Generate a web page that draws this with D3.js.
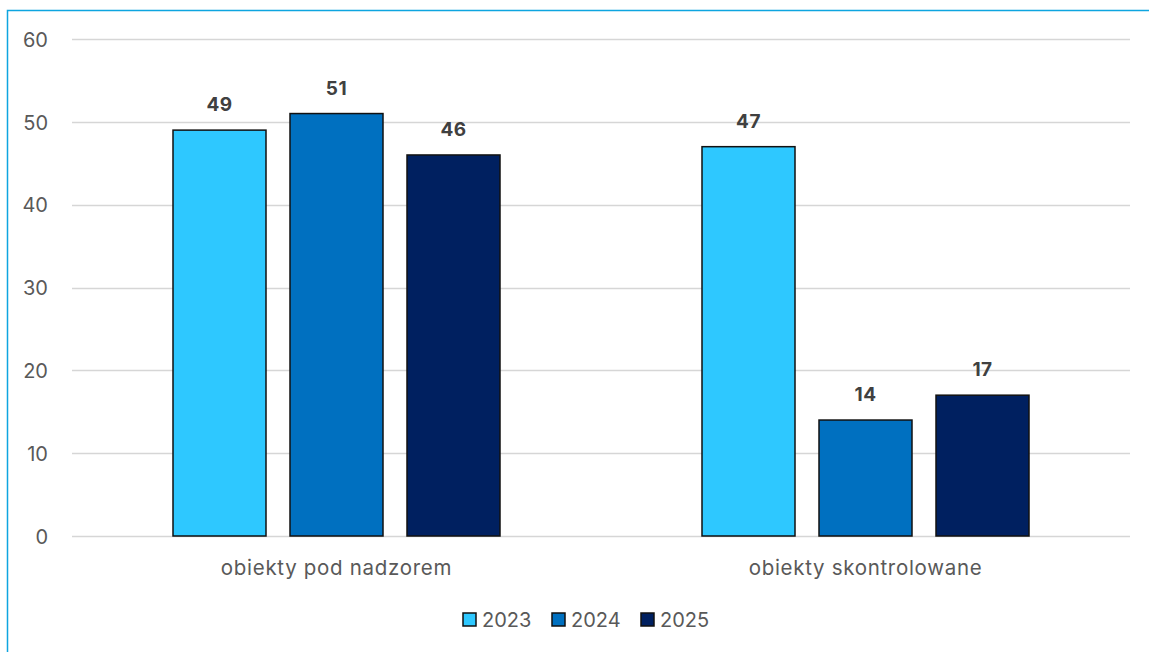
<!DOCTYPE html>
<html><head><meta charset="utf-8">
<script src="https://cdn.jsdelivr.net/npm/d3@7"></script>
<style>body{margin:0;background:#fff;}svg{display:block;font-family:Inter,"Open Sans",sans-serif;}</style>
</head><body><svg id="c" width="1149" height="652"></svg>
<script>
const categories = ["obiekty pod nadzorem", "obiekty skontrolowane"];
const seriesNames = ["2023", "2024", "2025"];
const values2023 = [49, 47];
const values2024 = [51, 14];
const values2025 = [46, 17];
const yTicks = [0, 10, 20, 30, 40, 50, 60];
const colors = ["#2ec8ff", "#0070c0", "#002060"];

const series = [values2023, values2024, values2025];
const svg = d3.select("#c");
const W = 1149, H = 652;
const m = {left: 72, right: 19, top: 39, bottom: 116};
const FONT = "Inter,'Open Sans',sans-serif";

// border
svg.append("path").attr("d", `M7.5,${H} L7.5,10.5 L${W},10.5`).attr("fill","none").attr("stroke","#0ea5e0").attr("stroke-width",1.5);

const x = d3.scaleBand().domain(categories).range([m.left, W - m.right]);
const xs = d3.scaleBand().domain(seriesNames).range([0, x.bandwidth()]).paddingInner(24/117).paddingOuter((529 - 3*117 + 24)/2/117);
const y = d3.scaleLinear().domain([0, 60]).range([H - m.bottom, m.top]);

// gridlines
svg.append("g").selectAll("line").data(yTicks).join("line")
  .attr("x1", m.left).attr("x2", W - m.right)
  .attr("y1", d => Math.round(y(d)) + 0.5).attr("y2", d => Math.round(y(d)) + 0.5)
  .attr("stroke", "#d6d6d6").attr("stroke-width", 1.7);

const yAxis = d3.axisLeft(y).tickValues(yTicks).tickSize(0).tickPadding(0);
const ga = svg.append("g").attr("transform", `translate(48,0)`).call(yAxis);
ga.select(".domain").remove();
ga.selectAll("text").attr("font-size", 20).attr("fill", "#595959").attr("font-family", FONT).attr("dy","0.36em");

const xAxis = d3.axisBottom(x).tickSize(0).tickPadding(0);
const gx = svg.append("g").attr("transform", `translate(0,${H - m.bottom + 24})`).call(xAxis);
gx.select(".domain").remove();
gx.selectAll("text").attr("font-size", 20.5).attr("letter-spacing", 0.7).attr("fill", "#595959").attr("font-family", FONT);

// bars
const groups = svg.append("g").selectAll("g").data(categories).join("g")
  .attr("transform", c => `translate(${x(c)},0)`);
groups.each(function(c, ci) {
  const g = d3.select(this);
  seriesNames.forEach((s, si) => {
    const v = series[si][ci];
    g.append("rect").attr("x", xs(s)).attr("width", xs.bandwidth())
      .attr("y", y(v)).attr("height", y(0) - y(v))
      .attr("fill", colors[si]).attr("stroke", "#111").attr("stroke-width", 1.5);
    g.append("text").attr("x", xs(s) + xs.bandwidth()/2).attr("y", y(v) - 19)
      .attr("text-anchor", "middle").attr("font-size", 19).attr("letter-spacing", 0.5).attr("font-weight", "bold")
      .attr("fill", "#404040").text(v);
  });
});

// legend
const legendX = [463, 552, 641];
const lg = svg.append("g");
seriesNames.forEach((s, i) => {
  lg.append("rect").attr("x", legendX[i]).attr("y", 613).attr("width", 13).attr("height", 13)
    .attr("fill", colors[i]).attr("stroke", "#111").attr("stroke-width", 1.5);
  lg.append("text").attr("x", legendX[i] + 19).attr("y", 627).attr("font-size", 20)
    .attr("fill", "#595959").text(s);
});
</script></body></html>
